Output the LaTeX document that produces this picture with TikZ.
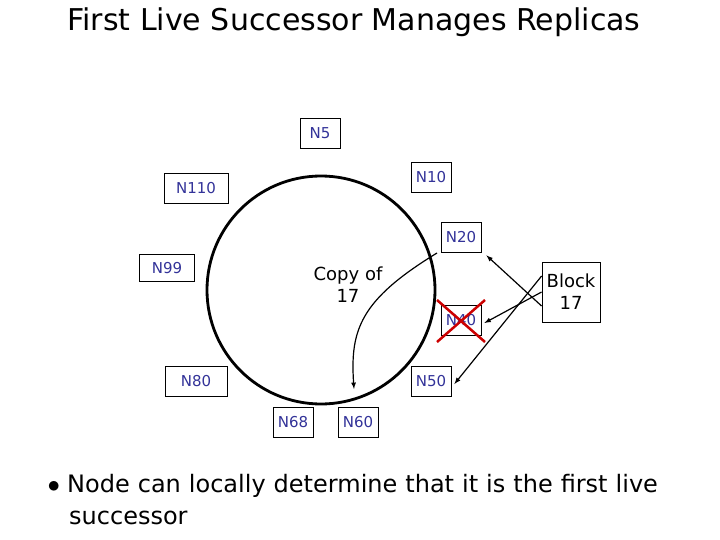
\documentclass[tikz,border=0pt]{standalone}
\usepackage{fontspec}
\setmainfont{DejaVu Sans}
\begin{document}
\begin{tikzpicture}[x=1pt,y=-1pt,
  nb/.style={draw,fill=white,line width=0.8pt,text=nblue,font=\fontsize{15}{17}\selectfont,inner sep=0pt,minimum height=30,minimum width=40},
  arr/.style={-latex,line width=1.2pt}]
\definecolor{nblue}{RGB}{51,51,153}
\useasboundingbox (0,0) rectangle (720,540);
\node[font=\fontsize{30}{34}\selectfont] (title) at (354,22) {First Live Successor Manages Replicas};
\draw[line width=2.8pt] (321,290) circle (114);
\node[nb] (n5) at (320,133) {N5};
\node[nb] (n10) at (431,177) {N10};
\node[nb,minimum width=64] (n110) at (196,188) {N110};
\node[nb] (n20) at (461,237) {N20};
\node[nb,minimum width=55,minimum height=27] (n99) at (167,268) {N99};
\node[nb] (n40) at (461,320) {N40};
\node[nb,minimum width=62] (n80) at (196,381) {N80};
\node[nb] (n50) at (431,381) {N50};
\node[nb] (n68) at (293,422) {N68};
\node[nb] (n60) at (358,422) {N60};
\node[draw,line width=0.8pt,minimum width=58,minimum height=60,align=center,font=\fontsize{18}{22}\selectfont] (blk) at (571,292) {Block\\17};
\node[align=center,font=\fontsize{18}{22}\selectfont] (copy) at (348,285) {Copy of\\17};
\draw[red!80!black,line width=2.5pt] (437,300) -- (485,342) (485,300) -- (437,342);
\coordinate (cs) at (437,253);
\coordinate (ce) at (354,389);
\draw[arr] (cs) .. controls (360,300) and (350,330) .. (ce);
\draw[arr] ([yshift=-14]blk.west) -- ([xshift=5,yshift=-3]n20.south east);
\draw[arr] (blk.west) -- ([xshift=3,yshift=-3]n40.east);
\draw[arr] ([yshift=16]blk.west) -- ([xshift=3,yshift=-3]n50.east);
\node[anchor=west,font=\fontsize{24}{32}\selectfont,align=left,text width=650] (b) at (44,500) {$\bullet$\hspace{0.3em}Node can locally determine that it is the first live\\\hspace{0.9em}successor};
\end{tikzpicture}
\end{document}
